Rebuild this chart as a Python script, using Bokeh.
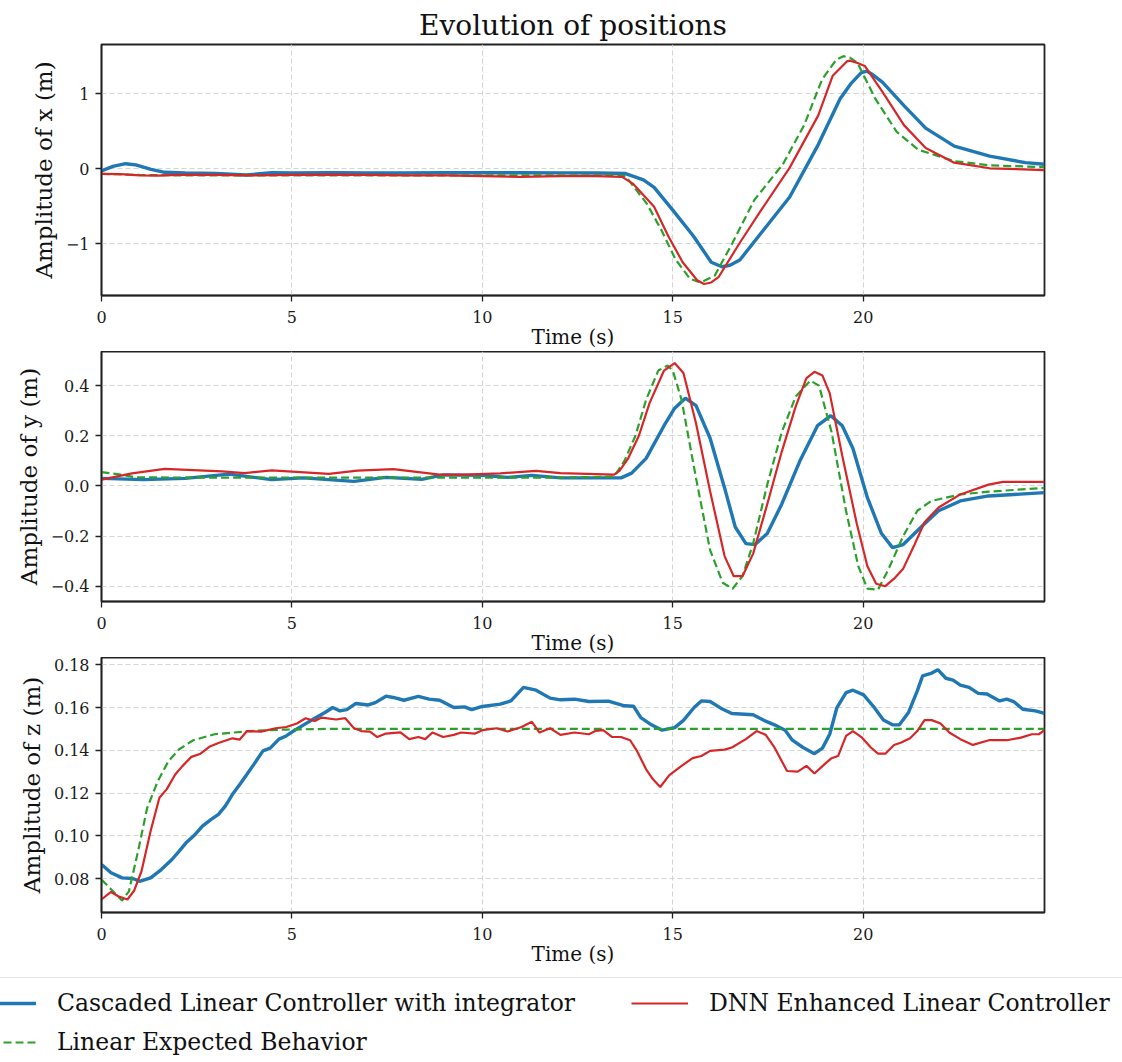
from bokeh.plotting import figure
from bokeh.layouts import column
from bokeh.models import Range1d, FixedTicker, Legend, LegendItem
from bokeh.embed import file_html
from bokeh.resources import INLINE

FONT = "DejaVu Serif"
BLUE = "#1f77b4"
RED = "#d62728"
GREEN = "#2ca02c"

# ---------------- x position ----------------
t_x_cascaded = [0, 0.3, 0.63, 0.9, 1.3, 1.66, 2.2, 3.0, 3.8, 4.47, 5.0, 6.0, 7.0, 8.0, 9.0, 10.0, 11.0, 12.0, 13.0,
                13.76, 14.23, 14.51, 15.0, 15.54, 16.01, 16.29, 16.5, 16.76, 17.32, 18.07, 18.82, 19.39, 19.67, 19.95,
                20.1, 20.23, 20.51, 21.07, 21.64, 22.39, 23.32, 24.26, 24.76]
x_cascaded = [-0.03, 0.03, 0.065, 0.05, -0.01, -0.05, -0.06, -0.065, -0.085, -0.055, -0.06, -0.055, -0.06, -0.058,
              -0.055, -0.055, -0.056, -0.058, -0.06, -0.066, -0.15, -0.25, -0.555, -0.90, -1.25, -1.31, -1.29, -1.22,
              -0.86, -0.38, 0.32, 0.93, 1.13, 1.28, 1.30, 1.26, 1.15, 0.84, 0.54, 0.30, 0.166, 0.079, 0.057]

t_x_dnn = [0, 0.5, 1.0, 1.5, 2.0, 3.0, 4.0, 5.0, 6.0, 7.0, 8.0, 9.0, 10.0, 11.0, 12.0, 13.0, 13.67, 13.95, 14.51,
           14.88, 15.26, 15.64, 15.82, 16.01, 16.2, 16.76, 17.32, 18.07, 18.82, 19.2, 19.57, 19.65, 19.85, 20.04,
           20.51, 21.07, 21.64, 22.39, 23.32, 24.76]
x_dnn = [-0.07, -0.075, -0.09, -0.095, -0.085, -0.085, -0.09, -0.085, -0.08, -0.085, -0.09, -0.09, -0.1, -0.11,
         -0.1, -0.1, -0.11, -0.2, -0.51, -0.90, -1.25, -1.49, -1.54, -1.52, -1.45, -0.99, -0.555, 0.013, 0.71, 1.24,
         1.43, 1.44, 1.41, 1.37, 1.02, 0.58, 0.275, 0.079, 0.004, -0.02]

t_x_expected = [0, 1.0, 2.0, 13.4, 13.76, 14.32, 14.7, 15.07, 15.45, 15.73, 16.1, 16.57, 17.14, 17.89, 18.45, 18.92,
                19.29, 19.48, 19.65, 19.85, 20.32, 20.88, 21.45, 22.39, 23.32, 24.76]
x_expected = [-0.07, -0.085, -0.09, -0.09, -0.10, -0.47, -0.82, -1.21, -1.47, -1.52, -1.43, -0.99, -0.42, 0.057,
              0.58, 1.19, 1.45, 1.50, 1.48, 1.41, 0.93, 0.49, 0.25, 0.10, 0.043, 0.02]

# ---------------- y position ----------------
t_y_cascaded = [0, 1.1, 2.2, 3.35, 4.47, 5.3, 6.63, 7.47, 8.41, 8.97, 10.0, 10.66, 11.31, 12.05, 13.64, 13.92, 14.3,
                14.77, 15.05, 15.33, 15.61, 15.98, 16.36, 16.64, 16.92, 17.16, 17.48, 17.86, 18.33, 18.8, 19.15,
                19.45, 19.73, 20.11, 20.48, 20.77, 21.05, 21.61, 21.98, 22.55, 23.29, 24.76]
y_cascaded = [0.03, 0.025, 0.03, 0.047, 0.025, 0.032, 0.018, 0.034, 0.026, 0.044, 0.042, 0.034, 0.042, 0.032, 0.032,
              0.051, 0.11, 0.24, 0.31, 0.35, 0.32, 0.19, -0.008, -0.164, -0.23, -0.234, -0.19, -0.073, 0.097, 0.24,
              0.28, 0.24, 0.149, -0.047, -0.19, -0.246, -0.234, -0.151, -0.099, -0.06, -0.04, -0.027]

t_y_dnn = [0, 0.8, 1.66, 3.16, 3.76, 4.47, 5.97, 6.72, 7.66, 8.88, 9.53, 10.47, 11.41, 12.05, 13.46, 13.6, 13.83,
           14.11, 14.39, 14.77, 15.05, 15.28, 15.61, 15.98, 16.36, 16.6, 16.83, 17.11, 17.48, 17.86, 18.23, 18.51,
           18.72, 18.93, 19.12, 19.45, 19.83, 20.11, 20.34, 20.58, 20.81, 21.05, 21.33, 21.61, 21.98, 22.55, 23.29,
           23.67, 24.76]
y_dnn = [0.025, 0.05, 0.068, 0.058, 0.051, 0.062, 0.048, 0.061, 0.067, 0.045, 0.045, 0.05, 0.06, 0.051, 0.045, 0.06,
         0.11, 0.20, 0.33, 0.46, 0.49, 0.45, 0.25, -0.021, -0.28, -0.36, -0.36, -0.27, -0.073, 0.136, 0.318, 0.43,
         0.455, 0.44, 0.37, 0.12, -0.15, -0.32, -0.39, -0.40, -0.37, -0.33, -0.24, -0.145, -0.086, -0.034, 0.005,
         0.016, 0.016]

t_y_expected = [0, 0.5, 0.91, 3.0, 6.0, 9.0, 12.0, 13.46, 13.73, 14.02, 14.3, 14.62, 14.86, 15.0, 15.23, 15.61, 15.98,
                16.31, 16.57, 16.83, 17.11, 17.48, 17.86, 18.23, 18.61, 18.84, 19.17, 19.55, 19.87, 20.11, 20.39,
                20.67, 21.05, 21.42, 21.79, 22.55, 23.29, 24.76]
y_expected = [0.055, 0.045, 0.034, 0.033, 0.033, 0.033, 0.033, 0.037, 0.10, 0.20, 0.344, 0.46, 0.48, 0.46, 0.344,
              0.031, -0.256, -0.386, -0.41, -0.36, -0.23, 0.005, 0.214, 0.357, 0.42, 0.40, 0.214, -0.1, -0.32, -0.41,
              -0.414, -0.33, -0.2, -0.099, -0.06, -0.034, -0.023, -0.008]

# ---------------- z position ----------------
t_z_cascaded = [0, 0.25, 0.54, 0.82, 1.0, 1.29, 1.57, 1.85, 2.04, 2.22, 2.46, 2.65, 2.88, 3.07, 3.25, 3.44, 3.63,
                3.82, 4.0, 4.24, 4.43, 4.66, 4.85, 5.04, 5.32, 5.6, 5.88, 6.07, 6.26, 6.44, 6.68, 7.0, 7.19, 7.47,
                7.66, 7.94, 8.32, 8.6, 8.88, 9.25, 9.53, 9.72, 10.0, 10.47, 10.75, 11.08, 11.41, 11.78, 12.05, 12.42,
                12.8, 13.31, 13.73, 13.97, 14.16, 14.44, 14.72, 15.05, 15.28, 15.56, 15.75, 15.98, 16.26, 16.55,
                17.11, 17.39, 17.67, 17.95, 18.14, 18.42, 18.72, 18.93, 19.12, 19.31, 19.55, 19.73, 20.01, 20.29,
                20.53, 20.77, 20.95, 21.19, 21.42, 21.56, 21.8, 21.96, 22.17, 22.36, 22.55, 22.78, 23.02, 23.25,
                23.58, 23.77, 23.95, 24.19, 24.52, 24.76]
z_cascaded = [0.0866, 0.0827, 0.0803, 0.080, 0.0787, 0.0803, 0.0842, 0.0889, 0.0928, 0.0967, 0.1006, 0.1045, 0.1077,
              0.110, 0.1139, 0.1194, 0.124, 0.1288, 0.1334, 0.1397, 0.141, 0.1452, 0.1467, 0.149, 0.152, 0.155,
              0.1578, 0.160, 0.1584, 0.159, 0.1619, 0.1612, 0.1623, 0.1653, 0.1647, 0.1634, 0.1652, 0.1639, 0.1634,
              0.160, 0.1603, 0.159, 0.1605, 0.1616, 0.1631, 0.1694, 0.1681, 0.1644, 0.1636, 0.1639, 0.1628, 0.163,
              0.1608, 0.1606, 0.1553, 0.1519, 0.1494, 0.1506, 0.154, 0.160, 0.1631, 0.1628, 0.1597, 0.1572, 0.1566,
              0.154, 0.1519, 0.1494, 0.1447, 0.1413, 0.1384, 0.141, 0.1475, 0.160, 0.167, 0.1681, 0.1659, 0.160,
              0.1542, 0.1519, 0.1519, 0.1577, 0.1678, 0.1748, 0.1761, 0.1777, 0.1737, 0.1728, 0.1705, 0.1694,
              0.1666, 0.1663, 0.1631, 0.1639, 0.1628, 0.1592, 0.1584, 0.1573]

t_z_dnn = [0, 0.25, 0.44, 0.68, 0.86, 1.05, 1.29, 1.52, 1.71, 1.94, 2.13, 2.36, 2.6, 2.83, 3.07, 3.44, 3.63, 3.82,
           4.19, 4.57, 4.85, 5.13, 5.36, 5.6, 5.78, 6.16, 6.4, 6.63, 6.82, 7.05, 7.24, 7.47, 7.85, 8.08, 8.32, 8.5,
           8.69, 8.97, 9.25, 9.44, 9.81, 10.0, 10.38, 10.66, 11.03, 11.3, 11.5, 11.78, 12.05, 12.42, 12.8, 12.98,
           13.17, 13.41, 13.64, 13.88, 14.06, 14.3, 14.48, 14.67, 14.91, 15.23, 15.52, 15.75, 15.98, 16.36, 16.55,
           16.92, 17.2, 17.44, 17.67, 18.0, 18.28, 18.51, 18.72, 18.98, 19.17, 19.34, 19.55, 19.73, 19.97, 20.2,
           20.39, 20.58, 20.81, 21.0, 21.23, 21.42, 21.61, 21.8, 22.03, 22.26, 22.55, 22.88, 23.3, 23.77, 24.14,
           24.43, 24.61, 24.76]
z_dnn = [0.0702, 0.0737, 0.0717, 0.0702, 0.0744, 0.0834, 0.1022, 0.1178, 0.1217, 0.1288, 0.1327, 0.1369, 0.1384,
         0.1416, 0.1434, 0.1456, 0.145, 0.149, 0.1487, 0.1503, 0.1509, 0.1525, 0.155, 0.1537, 0.1553, 0.1544, 0.155,
         0.1503, 0.149, 0.1487, 0.1462, 0.1478, 0.1484, 0.1452, 0.1462, 0.1452, 0.1483, 0.1462, 0.1472, 0.1483,
         0.1478, 0.1494, 0.1503, 0.1488, 0.1509, 0.1533, 0.1483, 0.1503, 0.1472, 0.1483, 0.1475, 0.1491, 0.1494,
         0.1462, 0.1462, 0.1447, 0.1397, 0.1311, 0.1264, 0.1228, 0.1284, 0.1327, 0.1363, 0.1373, 0.1397, 0.1403,
         0.1413, 0.1452, 0.149, 0.1472, 0.1413, 0.1303, 0.130, 0.1327, 0.1291, 0.1334, 0.1363, 0.1373, 0.1467,
         0.149, 0.1459, 0.1413, 0.1384, 0.1384, 0.1425, 0.1436, 0.1456, 0.149, 0.1541, 0.1541, 0.1525, 0.1483,
         0.1452, 0.1425, 0.1447, 0.1447, 0.1459, 0.1475, 0.1475, 0.1494]

t_z_expected = [0, 0.25, 0.54, 0.72, 0.96, 1.2, 1.48, 1.76, 2.04, 2.41, 2.97, 3.91, 4.85, 6.0, 24.76]
z_expected = [0.0795, 0.075, 0.0697, 0.074, 0.0928, 0.1131, 0.1256, 0.135, 0.1405, 0.1447, 0.1475, 0.149, 0.1497,
              0.15, 0.15]

x_ticks = [0, 5, 10, 15, 20]
x_limits = (0, 24.76)

labels = ["Cascaded Linear Controller with integrator", "Linear Expected Behavior", "DNN Enhanced Linear Controller"]

panels = [
    dict(ylabel="Amplitude of x (m)", yrange=(-1.694, 1.656), yticks=[-1, 0, 1],
         ylabels={-1: "\u22121", 0: "0", 1: "1"},
         series=[(t_x_cascaded, x_cascaded), (t_x_expected, x_expected), (t_x_dnn, x_dnn)]),
    dict(ylabel="Amplitude of y (m)", yrange=(-0.461, 0.536), yticks=[-0.4, -0.2, 0.0, 0.2, 0.4],
         ylabels={-0.4: "\u22120.4", -0.2: "\u22120.2", 0.0: "0.0", 0.2: "0.2", 0.4: "0.4"},
         series=[(t_y_cascaded, y_cascaded), (t_y_expected, y_expected), (t_y_dnn, y_dnn)]),
    dict(ylabel="Amplitude of z (m)", yrange=(0.0641, 0.1834), yticks=[0.08, 0.10, 0.12, 0.14, 0.16, 0.18],
         ylabels={0.08: "0.08", 0.10: "0.10", 0.12: "0.12", 0.14: "0.14", 0.16: "0.16", 0.18: "0.18"},
         series=[(t_z_cascaded, z_cascaded), (t_z_expected, z_expected), (t_z_dnn, z_dnn)]),
]

heights = [351, 306, 315]
tops = [44, 0, 0]
bottoms = [51, 51, 60]

figs = []
for i, pan in enumerate(panels):
    p = figure(width=1122, height=heights[i], output_backend="svg", toolbar_location=None,
               x_range=Range1d(*x_limits), y_range=Range1d(*pan["yrange"]),
               min_border_left=101, min_border_right=78, min_border_top=tops[i], min_border_bottom=bottoms[i],
               background_fill_color="white", border_fill_color="white")
    if i == 0:
        p.title.text = "Evolution of positions"
        p.title.align = "center"
        p.title.text_font = FONT
        p.title.text_font_size = "28px"
        p.title.text_font_style = "normal"
        p.title.text_color = "#111111"
        p.title.standoff = 6
    p.outline_line_color = "#222222"
    p.outline_line_width = 1.8
    p.outline_line_alpha = 1.0

    p.xaxis.ticker = FixedTicker(ticks=x_ticks)
    p.yaxis.ticker = FixedTicker(ticks=pan["yticks"])
    p.yaxis.major_label_overrides = pan["ylabels"]
    for ax in (p.xaxis, p.yaxis):
        ax.axis_line_color = "#222222"
        ax.axis_line_width = 1.5
        ax.major_tick_line_color = "#222222"
        ax.major_tick_line_width = 1.3
        ax.major_tick_out = 6
        ax.major_tick_in = 0
        ax.minor_tick_line_color = None
        ax.major_label_text_font = FONT
        ax.major_label_text_font_size = "16px"
        ax.major_label_text_color = "#1a1a1a"
        ax.axis_label_text_font = FONT
        ax.axis_label_text_font_style = "normal"
        ax.axis_label_text_color = "#111111"
    p.xaxis.axis_label = "Time (s)"
    p.xaxis.axis_label_text_font_size = "20px"
    p.xaxis.major_label_standoff = 9
    p.xaxis.axis_label_standoff = -1
    p.yaxis.axis_label = pan["ylabel"]
    p.yaxis.axis_label_text_font_size = "23px"
    p.yaxis.major_label_standoff = 6
    p.yaxis.axis_label_standoff = 6

    for g in (p.xgrid, p.ygrid):
        g.grid_line_color = "#d4d4d4"
        g.grid_line_dash = "5 3"
        g.grid_line_width = 1.1

    (tb, vb), (te, ve), (td, vd) = pan["series"]
    p.line(tb, vb, line_color=BLUE, line_width=3.4)
    p.line(te, ve, line_color=GREEN, line_width=2.2, line_dash="8 4")
    p.line(td, vd, line_color=RED, line_width=2.2)
    figs.append(p)

# legend strip below the panels (separate root, so that its frame spans the full width)
pl = figure(width=1122, height=90, output_backend="svg", toolbar_location=None,
            x_axis_type=None, y_axis_type=None, min_border=0,
            x_range=Range1d(0, 1), y_range=Range1d(0, 1),
            outline_line_color=None, background_fill_color="white", border_fill_color="white")
pl.grid.visible = False
nan = float("nan")
lb = pl.line([0], [nan], line_color=BLUE, line_width=3.4)
le = pl.line([0], [nan], line_color=GREEN, line_width=2.2, line_dash="8 4")
ld = pl.line([0], [nan], line_color=RED, line_width=2.2)
legend = Legend(items=[LegendItem(label=labels[0], renderers=[lb]),
                       LegendItem(label=labels[1], renderers=[le]),
                       LegendItem(label=labels[2], renderers=[ld])],
                location=(-33, -6), orientation="vertical", ncols=2,
                label_text_font=FONT, label_text_font_size="23.5px", label_text_color="#111111",
                glyph_width=57, glyph_height=28, label_height=28, label_width=563,
                label_standoff=21, spacing=11, padding=11, margin=0,
                border_line_color="#cccccc", border_line_width=1.2,
                background_fill_color="white", background_fill_alpha=0.85)
pl.add_layout(legend)

layout = column(*figs, spacing=0)
open("out.html", "w").write(file_html([layout, pl], INLINE))
